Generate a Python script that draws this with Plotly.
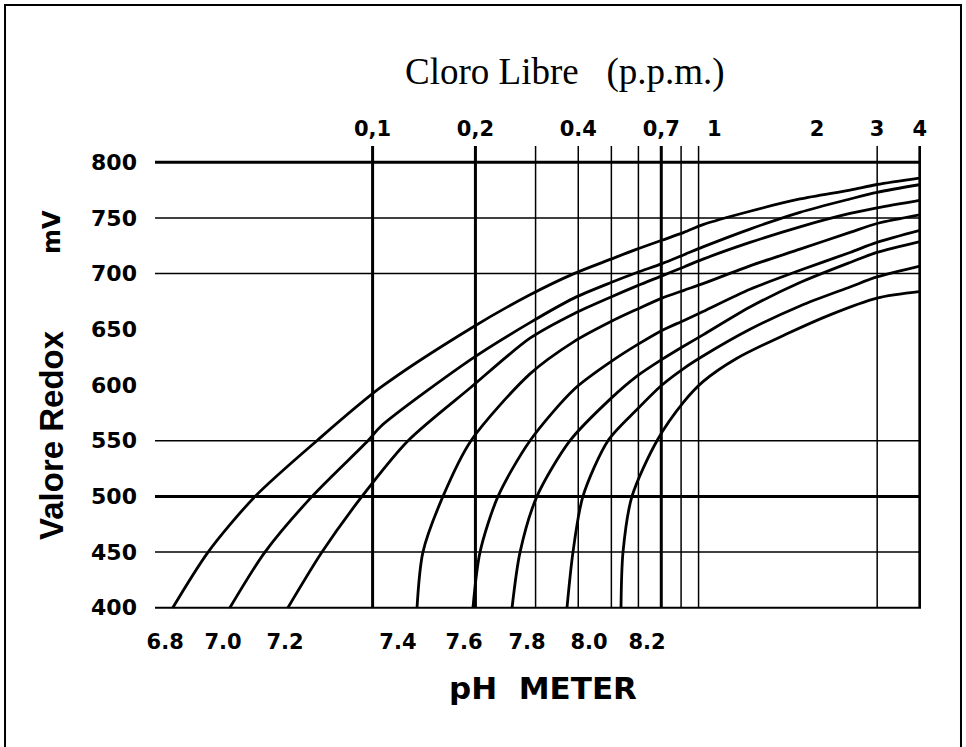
import plotly.graph_objects as go

# ---------------- data ----------------
# free chlorine (ppm) vs redox value (mV) for each pH curve
ppm_68 = [0.0260, 0.0330, 0.0453, 0.0687, 0.1058, 0.1941, 0.2889, 0.3886, 0.4987, 0.5943, 0.7033, 0.8156, 0.9273, 1.273, 1.783, 2.498, 2.997, 4.03]
mv_68 = [400, 450, 500, 550, 598, 651, 681, 700, 713, 722, 730, 737, 744, 756, 767, 775, 780, 786]

ppm_70 = [0.0382, 0.0484, 0.0665, 0.0969, 0.1058, 0.1941, 0.2889, 0.3886, 0.4987, 0.5943, 0.7033, 0.8156, 0.9273, 1.273, 1.783, 2.498, 2.997, 4.03]
mv_70 = [400, 450, 500, 550, 563, 623, 656, 678, 692, 701, 709, 717, 724, 740, 755, 767, 773, 780]

ppm_72 = [0.0565, 0.0711, 0.0931, 0.1270, 0.1941, 0.2889, 0.3886, 0.4987, 0.5943, 0.7033, 0.8156, 0.9273, 1.273, 1.783, 2.498, 2.997, 4.03]
mv_72 = [400, 450, 500, 550, 598, 642, 664, 679, 689, 698, 706, 713, 728, 742, 754, 759, 766]

ppm_74 = [0.1349, 0.1404, 0.1607, 0.1941, 0.2889, 0.3886, 0.4987, 0.5943, 0.7033, 0.8156, 0.9273, 1.273, 1.783, 2.498, 2.997, 4.03]
mv_74 = [400, 450, 500, 550, 610, 639, 657, 668, 678, 685, 691, 707, 722, 737, 745, 753]

ppm_76 = [0.1967, 0.2063, 0.2329, 0.2889, 0.3886, 0.4987, 0.5943, 0.7033, 0.8156, 0.9273, 1.273, 1.783, 2.498, 2.997, 4.03]
mv_76 = [400, 450, 500, 550, 596, 621, 636, 649, 658, 666, 686, 703, 719, 728, 739]

ppm_78 = [0.2560, 0.2702, 0.3028, 0.3783, 0.4987, 0.5943, 0.7033, 0.8156, 0.9273, 1.273, 1.783, 2.498, 2.997, 4.03]
mv_78 = [400, 450, 500, 550, 588, 608, 623, 635, 645, 670, 692, 710, 719, 729]

ppm_80 = [0.3707, 0.3860, 0.4128, 0.4887, 0.5943, 0.7033, 0.8156, 0.9273, 1.273, 1.783, 2.498, 2.997, 4.03]
mv_80 = [400, 450, 500, 550, 578, 600, 615, 626, 650, 671, 688, 697, 707]

ppm_82 = [0.5335, 0.5408, 0.5745, 0.6800, 0.8156, 0.9273, 1.166, 1.634, 2.183, 2.997, 4.03]
mv_82 = [400, 450, 500, 550, 585, 603, 624, 646, 663, 678, 684]

# axis / label values
mv_ticks = [400, 450, 500, 550, 600, 650, 700, 750, 800]
grid_mv_thin = [450, 550, 700, 750]
grid_mv_thick = [500, 800]
grid_mv_medium = [400]
ppm_lines_thin = [0.3, 0.4, 0.5, 0.6, 0.8, 0.9, 3]
ppm_lines_thick = [0.1, 0.2, 0.7, 4]
top_label_ppm = [0.1, 0.2, 0.4, 0.7, 1, 2, 3, 4]
top_label_text = ['0,1', '0,2', '0.4', '0,7', '1', '2', '3', '4']
ph_labels = ['6.8', '7.0', '7.2', '7.4', '7.6', '7.8', '8.0', '8.2']
ph_label_ppm = [0.0247, 0.0365, 0.0554, 0.1186, 0.1852, 0.2831, 0.4300, 0.6358]

curves = [(ppm_68, mv_68), (ppm_70, mv_70), (ppm_72, mv_72), (ppm_74, mv_74),
          (ppm_76, mv_76), (ppm_78, mv_78), (ppm_80, mv_80), (ppm_82, mv_82)]

# ---------------- figure ----------------
X_RANGE = [-1.637, 0.6054]
Y_RANGE = [398, 802]
PIX_FONT = "DejaVu Sans"

fig = go.Figure()
for (px, mv), lab in zip(curves, ph_labels):
    fig.add_trace(go.Scatter(x=px, y=mv, mode='lines', name='pH ' + lab,
                             line=dict(color='black', width=2.8, shape='spline', smoothing=0.8),
                             hoverinfo='skip', showlegend=False))

# invisible helpers so the label axes are drawn
fig.add_trace(go.Scatter(x=top_label_ppm, y=[None] * len(top_label_ppm), xaxis='x2', yaxis='y',
                         mode='markers', showlegend=False, hoverinfo='skip'))
fig.add_trace(go.Scatter(x=ph_label_ppm, y=[None] * len(ph_label_ppm), xaxis='x3', yaxis='y',
                         mode='markers', showlegend=False, hoverinfo='skip'))

shapes = []
for v, w in [(v, 1.5) for v in grid_mv_thin] + [(v, 3) for v in grid_mv_thick] + [(v, 2) for v in grid_mv_medium]:
    shapes.append(dict(type='line', xref='paper', yref='y', x0=0, x1=1, y0=v, y1=v,
                       line=dict(color='black', width=w)))
y_bottom = (400 - Y_RANGE[0]) / (Y_RANGE[1] - Y_RANGE[0])
for v, w in [(v, 1.5) for v in ppm_lines_thin] + [(v, 3) for v in ppm_lines_thick]:
    shapes.append(dict(type='line', xref='x', yref='paper', x0=v, x1=v, y0=y_bottom, y1=1.031,
                       line=dict(color='black', width=w)))
# outer frame
shapes.append(dict(type='rect', xref='paper', yref='paper', x0=-0.1958, x1=1.0522, y0=-0.35, y1=1.3444,
                   line=dict(color='black', width=2), fillcolor='rgba(0,0,0,0)'))

fig.update_layout(
    width=966, height=747,
    margin=dict(l=155, r=45, t=160, b=137),
    plot_bgcolor='white', paper_bgcolor='white',
    showlegend=False,
    shapes=shapes,
    xaxis=dict(type='log', range=X_RANGE, showgrid=False, zeroline=False, showline=False,
               showticklabels=False, ticks=''),
    xaxis2=dict(type='log', range=X_RANGE, overlaying='x', side='top', anchor='y',
                tickmode='array', tickvals=top_label_ppm, ticktext=top_label_text,
                showgrid=False, zeroline=False, showline=False, ticks='',
                ticklabelstandoff=19,
                tickfont=dict(family=PIX_FONT, size=21, color='black', weight='bold')),
    xaxis3=dict(type='log', range=X_RANGE, overlaying='x', side='bottom', anchor='y',
                tickmode='array', tickvals=ph_label_ppm, ticktext=ph_labels,
                showgrid=False, zeroline=False, showline=False, ticks='',
                ticklabelstandoff=17,
                tickfont=dict(family=PIX_FONT, size=21, color='black', weight='bold')),
    yaxis=dict(range=Y_RANGE, tickmode='array', tickvals=mv_ticks,
               showgrid=False, zeroline=False, showline=False, ticks='',
               ticklabelstandoff=17,
               tickfont=dict(family=PIX_FONT, size=22, color='black', weight='bold')),
    annotations=[
        dict(text='Cloro Libre   (p.p.m.)', xref='paper', yref='paper', x=0.535, y=1.1956,
             xanchor='center', yanchor='middle', showarrow=False,
             font=dict(family='Liberation Serif', size=37, color='black')),
        dict(text='pH  METER', xref='paper', yref='paper', x=0.5065, y=-0.1733,
             xanchor='center', yanchor='middle', showarrow=False,
             font=dict(family=PIX_FONT, size=31, color='black', weight='bold')),
        dict(text='Valore Redox', xref='paper', yref='paper', x=-0.1345, y=0.3889,
             xanchor='center', yanchor='middle', showarrow=False, textangle=-90,
             font=dict(family='Liberation Sans', size=33, color='black', weight='bold')),
        dict(text='mV', xref='paper', yref='paper', x=-0.1345, y=0.84,
             xanchor='center', yanchor='middle', showarrow=False, textangle=-90,
             font=dict(family=PIX_FONT, size=24, color='black', weight='bold')),
    ],
)

fig.write_html("out.html", config={'displayModeBar': False},
               post_script="document.body.style.margin='0px';")
